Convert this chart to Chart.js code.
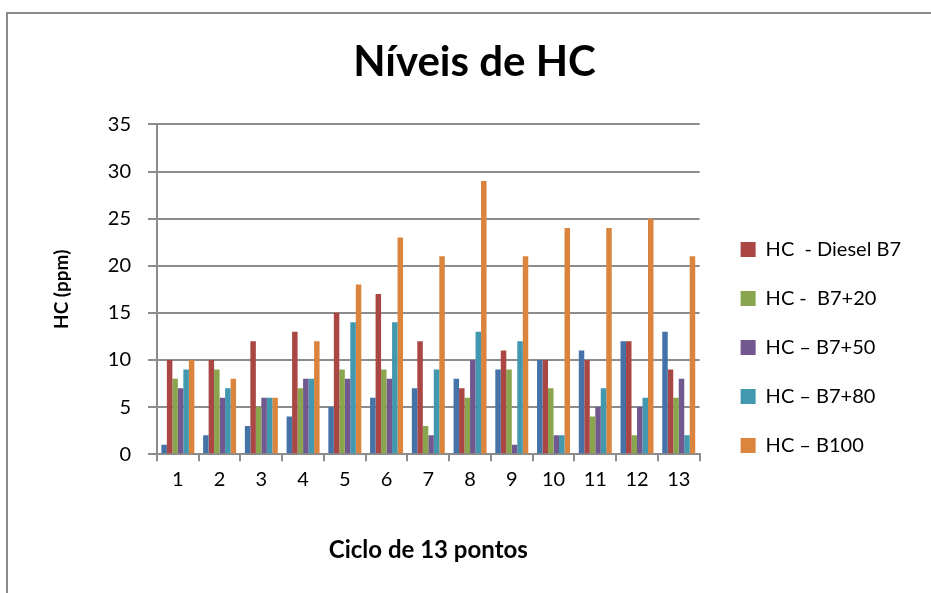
<!DOCTYPE html>
<html>
<head>
<meta charset="utf-8">
<script src="https://cdn.jsdelivr.net/npm/chart.js@4"></script>
<style>
    html, body { margin: 0; padding: 0; background: #ffffff; overflow: hidden; }
    #wrap { position: absolute; left: 0; top: 0; width: 931px; height: 593px; }
</style>
</head>
<body>
<div id="wrap"><canvas id="hcChart" width="931" height="593"></canvas></div>
<script>
const ciclos = ['1', '2', '3', '4', '5', '6', '7', '8', '9', '10', '11', '12', '13'];
const ponto = [1, 2, 3, 4, 5, 6, 7, 8, 9, 10, 11, 12, 13];
const dieselB7 = [10, 10, 12, 13, 15, 17, 12, 7, 11, 10, 10, 12, 9];
const b7mais20 = [8, 9, 5, 7, 9, 9, 3, 6, 9, 7, 4, 2, 6];
const b7mais50 = [7, 6, 6, 8, 8, 8, 2, 10, 1, 2, 5, 5, 8];
const b7mais80 = [9, 7, 6, 8, 14, 14, 9, 13, 12, 2, 7, 6, 2];
const b100 = [10, 8, 6, 12, 18, 23, 21, 29, 21, 24, 24, 25, 21];
const yTicks = [0, 5, 10, 15, 20, 25, 30, 35];

document.addEventListener('DOMContentLoaded', () => {
    const ctx = document.getElementById('hcChart').getContext('2d');
    const fontFamily = 'Lato, "Open Sans", sans-serif';

    const serie = (label, data, color) => ({
        label: label,
        data: data,
        backgroundColor: color,
        borderWidth: 0,
        categoryPercentage: 0.79,
        barPercentage: 1.0
    });

    // nudge the legend down/right like the Excel original
    const legendShift = {
        id: 'legendShift',
        afterUpdate(chart) {
            const lg = chart.legend;
            lg.top += 65; lg.bottom += 65;
            lg.left += 12; lg.right += 12;
            lg.adjustHitBoxes();
        }
    };

    // chart frame (left and top edges only, the rest is cropped off)
    const frame = {
        id: 'frame',
        beforeDraw(chart) {
            const c = chart.ctx;
            c.save();
            c.strokeStyle = '#8c8c8c';
            c.lineWidth = 2;
            c.beginPath();
            c.moveTo(7, chart.height);
            c.lineTo(7, 13);
            c.lineTo(chart.width, 13);
            c.stroke();
            c.restore();
        }
    };

    new Chart(ctx, {
        type: 'bar',
        data: {
            labels: ciclos,
            datasets: [
                serie('Ciclo', ponto, '#4572A7'),
                serie('HC  - Diesel B7', dieselB7, '#AA4643'),
                serie('HC -  B7+20', b7mais20, '#89A54E'),
                serie('HC \u2013 B7+50', b7mais50, '#71588F'),
                serie('HC \u2013 B7+80', b7mais80, '#4198AF'),
                serie('HC \u2013 B100', b100, '#DB843D')
            ]
        },
        options: {
            responsive: false,
            animation: false,
            layout: { padding: { left: 50, right: 32, top: 0, bottom: 28 } },
            plugins: {
                title: {
                    display: true,
                    text: 'Níveis de HC',
                    color: '#000000',
                    font: { family: fontFamily, size: 42, weight: 'bold' },
                    padding: { top: 37, bottom: 37 }
                },
                legend: {
                    position: 'right',
                    labels: {
                        filter: item => item.datasetIndex !== 0,
                        color: '#000000',
                        font: { family: fontFamily, size: 20 },
                        boxWidth: 15,
                        boxHeight: 15,
                        padding: 29,
                        useBorderRadius: false
                    }
                },
                tooltip: { enabled: false }
            },
            scales: {
                x: {
                    grid: {
                        offset: true,
                        drawOnChartArea: false,
                        drawTicks: true,
                        tickLength: 7,
                        color: '#8c8c8c',
                        lineWidth: 2
                    },
                    border: { color: '#8c8c8c', width: 2 },
                    ticks: {
                        color: '#000000',
                        font: { family: fontFamily, size: 20 },
                        padding: 6,
                        maxRotation: 0,
                        autoSkip: false
                    },
                    title: {
                        display: true,
                        text: 'Ciclo de 13 pontos',
                        color: '#000000',
                        font: { family: fontFamily, size: 24, weight: 'bold' },
                        padding: { top: 39, bottom: 0 }
                    }
                },
                y: {
                    min: 0,
                    max: 35,
                    afterBuildTicks: axis => { axis.ticks = yTicks.map(v => ({ value: v })); },
                    grid: {
                        color: '#8c8c8c',
                        lineWidth: 2,
                        tickLength: 9
                    },
                    border: { color: '#8c8c8c', width: 2 },
                    ticks: {
                        color: '#000000',
                        font: { family: fontFamily, size: 20 },
                        padding: 17
                    },
                    title: {
                        display: true,
                        text: 'HC (ppm)',
                        color: '#000000',
                        font: { family: fontFamily, size: 19, weight: 'bold' },
                        padding: { top: 0, bottom: 18 }
                    }
                }
            }
        },
        plugins: [legendShift, frame]
    });
});
</script>
</body>
</html>
